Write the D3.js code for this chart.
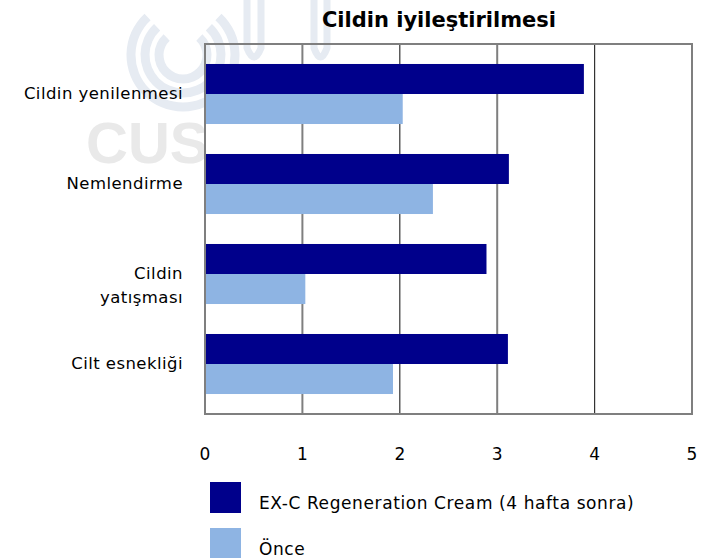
<!DOCTYPE html>
<html>
<head>
<meta charset="utf-8">
<script src="https://cdn.jsdelivr.net/npm/d3@7"></script>
<style>
  body { margin: 0; background: #fff; }
  svg text { font-family: "DejaVu Sans", sans-serif; fill: #000; }
</style>
</head>
<body>
<div id="chart"></div>
<script>
let categories = ["Cildin yenilenmesi", "Nemlendirme", "Cildin yatışması", "Cilt esnekliği"];
let categoryLines = [["Cildin yenilenmesi"], ["Nemlendirme"], ["Cildin", "yatışması"], ["Cilt esnekliği"]];
let seriesNames = ["EX-C Regeneration Cream (4 hafta sonra)", "Önce"];
let afterValues = [3.89, 3.12, 2.89, 3.11];
let beforeValues = [2.03, 2.34, 1.03, 1.93];
let tickValues = [0, 1, 2, 3, 4, 5];
let colors = ["#00008b", "#8eb4e3"];

let width = 705, height = 558;
let plot = { left: 205, right: 692, top: 44, bottom: 414 };

let svg = d3.select("#chart").append("svg")
  .attr("width", width)
  .attr("height", height);

// faint watermark in the background
let wm = svg.append("g");
[52, 38, 24].forEach(r => {
  wm.append("path")
    .attr("transform", "translate(183,55)")
    .attr("d", d3.arc()({ innerRadius: r - 4.5, outerRadius: r + 4.5, startAngle: 0.75, endAngle: 2 * Math.PI - 0.75 }))
    .attr("fill", "#e6ebf2");
});
[[243, 265], [310, 331]].forEach(([a, b]) => {
  wm.append("path")
    .attr("d", `M${a + 4},0 V48 Q${(a + b) / 2},66 ${b - 4},48 V0`)
    .attr("fill", "none")
    .attr("stroke", "#e6ebf2")
    .attr("stroke-width", 7);
});
svg.append("text")
  .attr("x", 86).attr("y", 163)
  .attr("font-size", 58).attr("font-weight", "bold")
  .style("font-family", "Liberation Sans, Arial, sans-serif")
  .style("fill", "#e9e9e9")
  .text("CUS");

let x = d3.scaleLinear().domain([0, 5]).range([plot.left, plot.right]);
let y = d3.scaleBand().domain(categories).range([plot.top, plot.bottom]).paddingInner(0.333).paddingOuter(0.222);
let inner = d3.scaleBand().domain(seriesNames).range([0, y.bandwidth()]);

// gridlines
svg.append("g").selectAll("line")
  .data(tickValues.slice(1, -1))
  .join("line")
  .attr("x1", d => x(d)).attr("x2", d => x(d))
  .attr("y1", plot.top).attr("y2", plot.bottom)
  .attr("stroke", d => d % 2 === 0 ? "#333" : "#7f7f7f")
  .attr("stroke-width", d => d % 2 === 0 ? 1.2 : 2);

let rows = categories.map((c, i) => ({ cat: c, values: [afterValues[i], beforeValues[i]] }));

let group = svg.append("g").selectAll("g")
  .data(rows)
  .join("g")
  .attr("transform", d => `translate(0,${y(d.cat)})`);

group.selectAll("rect")
  .data(d => d.values.map((v, j) => ({ name: seriesNames[j], value: v, j })))
  .join("rect")
  .attr("x", x(0) + 1)
  .attr("y", d => inner(d.name))
  .attr("width", d => x(d.value) - x(0) - 1)
  .attr("height", inner.bandwidth())
  .attr("fill", d => colors[d.j]);

// frame
svg.append("rect")
  .attr("x", plot.left).attr("y", plot.top)
  .attr("width", plot.right - plot.left).attr("height", plot.bottom - plot.top)
  .attr("fill", "none").attr("stroke", "#7f7f7f").attr("stroke-width", 2);

// x tick labels
svg.append("g").selectAll("text")
  .data(tickValues)
  .join("text")
  .attr("x", d => x(d))
  .attr("y", 460)
  .attr("text-anchor", "middle")
  .attr("font-size", 17)
  .text(d => d);

// category labels
let labels = svg.append("g").selectAll("text")
  .data(categories)
  .join("text")
  .attr("text-anchor", "end")
  .attr("font-size", 16.5)
  .attr("letter-spacing", 0.45)
  .attr("x", 183)
  .attr("y", d => y(d) + y.bandwidth() / 2 + 5);
labels.selectAll("tspan")
  .data((d, i) => categoryLines[i])
  .join("tspan")
  .attr("x", 183)
  .attr("dy", (d, k) => k === 0 ? 0 : 24)
  .text(d => d);

// title
svg.append("text")
  .attr("x", 439).attr("y", 27)
  .attr("text-anchor", "middle")
  .attr("font-size", 21)
  .attr("font-weight", "bold")
  .text("Cildin iyileştirilmesi");

// legend
let legend = svg.append("g").selectAll("g")
  .data(seriesNames)
  .join("g")
  .attr("transform", (d, i) => `translate(210,${482 + i * 46})`);
legend.append("rect")
  .attr("width", 31).attr("height", 31)
  .attr("fill", (d, i) => colors[i]);
legend.append("text")
  .attr("x", 49).attr("y", 26.5)
  .attr("font-size", 17)
  .attr("letter-spacing", 0.6)
  .text(d => d);
</script>
</body>
</html>
